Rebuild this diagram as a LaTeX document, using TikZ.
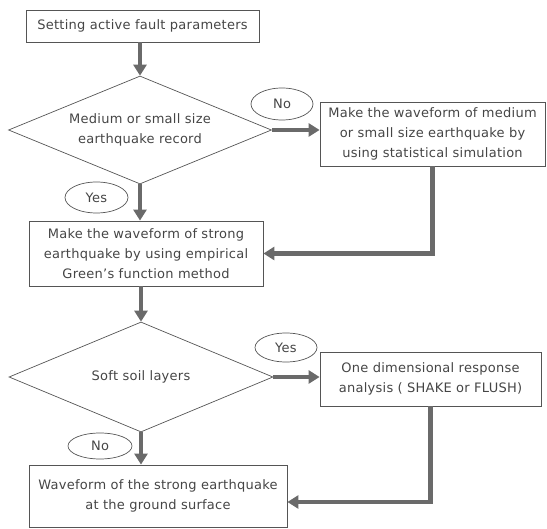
\documentclass[tikz,border=0pt]{standalone}
\usepackage{fontspec}
\setmainfont{DejaVu Sans}[LetterSpace=2]
\usetikzlibrary{shapes.geometric,arrows.meta,calc}
\definecolor{txt}{HTML}{454545}
\definecolor{edge}{HTML}{555555}
\definecolor{arr}{HTML}{6A6A6A}
\begin{document}
\begin{tikzpicture}[x=1pt,y=-1pt,
  every node/.style={font=\fontsize{13}{20}\selectfont, text=txt, align=center, inner sep=0pt},
  procbox/.style={draw=edge, line width=0.8pt, rectangle},
  decide/.style={draw=edge, line width=0.7pt, diamond, aspect=2.44},
  tag/.style={draw=edge, line width=0.7pt, ellipse},
  flow/.style={draw=arr, line width=4.5pt, -{Triangle[width=13pt,length=11pt]}}
]
\useasboundingbox (0,0) rectangle (547,529);
\node[procbox, minimum width=233pt, minimum height=32pt] (top) at (142.5,26) {Setting active fault parameters};
\node[decide, minimum width=263pt, minimum height=108pt] (d1) at (140,130) {Medium or small size\\earthquake record};
\node[procbox, minimum width=225pt, minimum height=64pt] (b1) at (432.5,134) {Make the waveform of medium\\or small size earthquake by\\using statistical simulation};
\node[procbox, minimum width=234pt, minimum height=65pt] (b2) at (146,253.5) {Make the waveform of strong\\earthquake by using empirical\\Green's function method};
\node[decide, minimum width=264pt, minimum height=110pt] (d2) at (141,377) {Soft soil layers};
\node[procbox, minimum width=221pt, minimum height=54pt] (b4) at (430.5,379) {One dimensional response\\analysis ( SHAKE or FLUSH)};
\node[procbox, minimum width=258pt, minimum height=62pt] (b3) at (158,496) {Waveform of the strong earthquake\\at the ground surface};
\node[tag, minimum width=62pt, minimum height=32pt] (no1) at (282,104) {No};
\node[tag, minimum width=63pt, minimum height=31pt] (yes1) at (96.5,197.5) {Yes};
\node[tag, minimum width=62pt, minimum height=29pt] (yes2) at (286,347.5) {Yes};
\node[tag, minimum width=64pt, minimum height=26pt] (no2) at (100,446) {No};
\draw[flow] (d1.north |- top.south) -- (d1.north);
\draw[flow] (d1.east) -- (d1.east -| b1.west);
\draw[flow] (d1.south) -- (d1.south |- b2.north);
\draw[flow] (b1.south) |- (b2.east);
\draw[flow] (d2.north |- b2.south) -- (d2.north);
\draw[flow] (d2.east) -- (d2.east -| b4.west);
\draw[flow] (d2.south) -- (d2.south |- b3.north);
\draw[flow] (b4.south) |- ([yshift=-6pt]b3.east);
\end{tikzpicture}
\end{document}
